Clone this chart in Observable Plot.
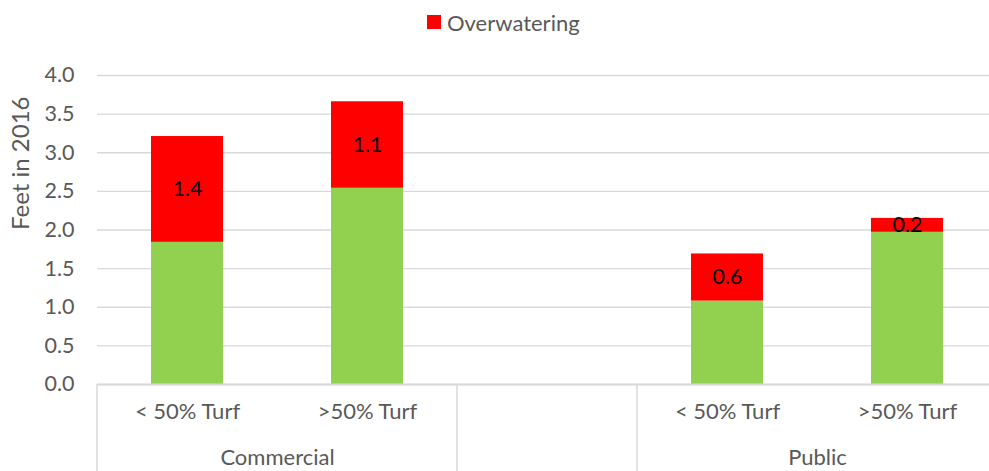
<!DOCTYPE html>
<html>
<head>
<meta charset="utf-8">
<script src="https://cdn.jsdelivr.net/npm/d3@7"></script>
<script src="https://cdn.jsdelivr.net/npm/@observablehq/plot@0.6"></script>
<style>
  html, body { margin: 0; padding: 0; background: #fff; overflow: hidden; }
  body { width: 989px; height: 471px; font-family: Lato, "Open Sans", sans-serif; }
  #legend { height: 44px; display: flex; align-items: center; padding-left: 427px; box-sizing: border-box; color: #595959; font-size: 22px; }
  #legend .sw { width: 14px; height: 14px; background: #FF0000; margin-right: 6px; }
  #chart { width: 989px; overflow: hidden; }
  #chart svg { display: block; max-width: none !important; }
</style>
</head>
<body>
<div id="legend"><span class="sw"></span><span>Overwatering</span></div>
<div id="chart"></div>
<script>
// ---- data ----
const slots = ["c_lt", "c_gt", "gap", "p_lt", "p_gt"];
const tickLabels = ["< 50% Turf", ">50% Turf", "", "< 50% Turf", ">50% Turf"];
const groupNames = ["Commercial", "", "Public"];
const groupStarts = ["c_lt", "gap", "p_lt"];
const baseValues = [1.84, 2.54, null, 1.08, 1.97];
const overValues = [1.37, 1.12, null, 0.61, 0.18];
const yTicks = [0, 0.5, 1.0, 1.5, 2.0, 2.5, 3.0, 3.5, 4.0];
const yLabel = "Feet in 2016";
const seriesNames = ["Base", "Overwatering"];
const seriesColors = ["#92D050", "#FF0000"];

// ---- build table ----
const table = [];
slots.forEach((s, i) => {
  if (baseValues[i] != null) table.push({slot: s, series: seriesNames[0], value: baseValues[i]});
  if (overValues[i] != null) table.push({slot: s, series: seriesNames[1], value: overValues[i]});
});
const tickRows = slots.map((s, i) => ({slot: s, label: tickLabels[i]}));
const groupRows = groupStarts.map((s, i) => ({slot: s, label: groupNames[i]})).filter(d => d.label);

const W = 997, H = 427, mL = 97, mR = 0, mT = 31, mB = 87;
const step = (W - mL - mR) / slots.length;

function dividers(index, scales, values, dims) {
  const x = scales.x;
  const st = x(slots[1]) - x(slots[0]);
  let bw = typeof x.bandwidth === "function" ? x.bandwidth() : (typeof x.bandwidth === "number" ? x.bandwidth : st * 0.4);
  const g = d3.create("svg:g");
  groupStarts.forEach(s => {
    const xx = x(s) - (st - bw) / 2;
    g.append("line")
      .attr("x1", xx).attr("x2", xx)
      .attr("y1", dims.height - dims.marginBottom).attr("y2", dims.height)
      .attr("stroke", "#d9d9d9").attr("stroke-width", 1.5);
  });
  return g.node();
}

const chart = Plot.plot({
  width: W, height: H,
  marginLeft: mL, marginRight: mR, marginTop: mT, marginBottom: mB,
  style: {fontFamily: "Lato, 'Open Sans', sans-serif", fontSize: "21.5px", color: "#595959", background: "#fff"},
  x: {domain: slots, paddingInner: 0.6, paddingOuter: 0.3, axis: null},
  y: {domain: [0, 4], ticks: yTicks, tickFormat: d => d.toFixed(1), tickSize: 0, tickPadding: 23, label: null},
  color: {domain: seriesNames, range: seriesColors},
  marks: [
    Plot.ruleY(yTicks, {stroke: "#d9d9d9", strokeWidth: 1.3}),
    Plot.barY(table, {x: "slot", y: "value", fill: "series", order: seriesNames}),
    Plot.ruleY([0], {stroke: "#d9d9d9", strokeWidth: 2}),
    Plot.text(table, Plot.stackY({
      x: "slot", y: "value", z: "series", order: seriesNames,
      text: d => d.series === "Overwatering" ? d.value.toFixed(1) : "",
      fill: "black", fontSize: 21.5
    })),
    Plot.text(tickRows, {x: "slot", text: "label", frameAnchor: "bottom", dy: 34, fill: "#595959", fontSize: 22}),
    Plot.text(groupRows, {x: "slot", text: "label", frameAnchor: "bottom", dy: 80, dx: step / 2, fill: "#595959", fontSize: 22}),
    Plot.text([yLabel], {frameAnchor: "left", rotate: -90, dx: -76, fill: "#595959", fontSize: 24}),
    dividers
  ]
});
document.getElementById("chart").appendChild(chart);
</script>
</body>
</html>
